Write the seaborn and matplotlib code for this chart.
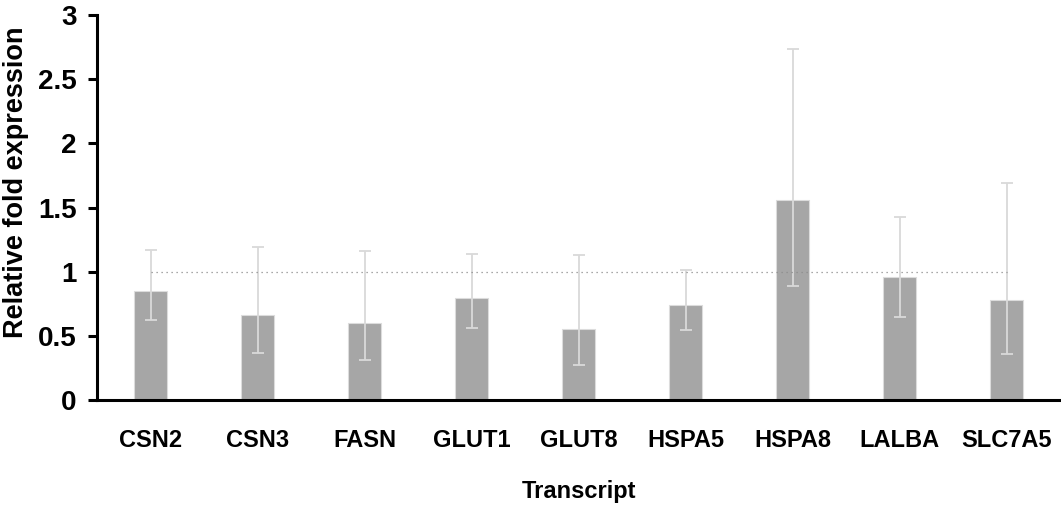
import matplotlib
matplotlib.use("Agg")
import matplotlib.pyplot as plt
import seaborn as sns
import pandas as pd
import numpy as np

transcripts = ["CSN2", "CSN3", "FASN", "GLUT1", "GLUT8", "HSPA5", "HSPA8", "LALBA", "SLC7A5"]
fold_expression = [0.852, 0.662, 0.603, 0.797, 0.551, 0.740, 1.558, 0.961, 0.777]
error_upper = [1.169, 1.192, 1.158, 1.138, 1.130, 1.010, 2.735, 1.423, 1.694]
error_lower = [0.621, 0.369, 0.314, 0.561, 0.270, 0.543, 0.891, 0.647, 0.358]
reference_level = 1.0
y_ticks = [0, 0.5, 1, 1.5, 2, 2.5, 3]
y_tick_labels = ["0", "0.5", "1", "1.5", "2", "2.5", "3"]

sns.set_theme(style="white")
plt.rcParams["font.family"] = ["Liberation Sans", "DejaVu Sans"]

df = pd.DataFrame({"Transcript": transcripts, "Fold": fold_expression})

fig = plt.figure(figsize=(10.61, 5.08), dpi=100)
ax = fig.add_axes([97 / 1061, 1 - 400 / 508, 963 / 1061, 385 / 508])

sns.barplot(data=df, x="Transcript", y="Fold", color="#a6a6a6", saturation=1,
            width=0.31, edgecolor="#dcdcdc", linewidth=0.8, ax=ax)

x = np.arange(len(transcripts))
vals = np.array(fold_expression)
yerr = np.vstack([vals - np.array(error_lower), np.array(error_upper) - vals])
ax.errorbar(x, vals, yerr=yerr, fmt="none", ecolor="#d9d9d9", elinewidth=1.3,
            capsize=4.3, capthick=1.3, zorder=3)

ax.hlines(reference_level, 0, len(transcripts) - 1, colors="#8c8c8c",
          linestyles=(0, (1, 3)), linewidth=0.9, zorder=4)

ax.set_ylim(0, 3)
ax.set_xlim(-0.5, len(transcripts) - 0.5)
ax.set_yticks(y_ticks)
ax.set_yticklabels(y_tick_labels)
for s in ["top", "right"]:
    ax.spines[s].set_visible(False)
for s in ["left", "bottom"]:
    ax.spines[s].set_color("black")
    ax.spines[s].set_linewidth(2.2)
ax.tick_params(axis="y", direction="out", length=6.5, width=2.2, color="black",
               labelsize=20, pad=8, left=True)
ax.tick_params(axis="x", length=0, labelsize=17, pad=21)
for lab in ax.get_xticklabels() + ax.get_yticklabels():
    lab.set_fontweight("bold")
    lab.set_color("black")

ax.set_xlabel("Transcript", fontsize=17, fontweight="bold", color="black")
ax.xaxis.set_label_coords(0.5, (400 - 480) / 385)
ax.set_ylabel("Relative fold expression", fontsize=19.5, fontweight="bold", color="black")
ax.yaxis.set_label_coords((29 - 97) / 963, (400 - 182) / 385)
ax.grid(False)

fig.savefig("out.png", dpi=100)
